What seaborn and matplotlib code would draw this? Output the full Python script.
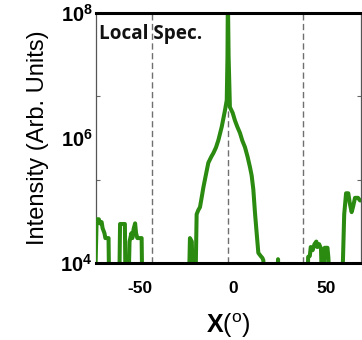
import numpy as np
import pandas as pd
import matplotlib
matplotlib.use("Agg")
import matplotlib.pyplot as plt
import seaborn as sns

# ---- data ----
angle = [-74.0, -73.2, -72.0, -71.5, -70.5, -70.0, -69.0, -68.5, -66.8, -66.5,
         -61.0, -60.6, -58.0, -57.7, -56.0, -55.5, -54.5, -54.0, -53.3, -52.5,
         -52.0, -51.3, -49.0, -48.7,
         -23.5, -23.0, -22.0, -21.5, -20.0, -19.4, -18.5, -17.6, -16.5, -15.8,
         -14.5, -13.1, -11.5, -10.4, -9.0, -7.7, -5.9, -4.1, -3.2, -2.8,
         -2.6, -2.2, -1.5, 0.0, 1.2, 2.5, 3.9, 5.2, 6.6, 8.0,
         9.3, 10.2, 11.1, 12.0, 12.9, 13.8, 15.0, 16.0, 16.5, 17.0,
         24.0, 24.4, 24.8,
         40.3, 40.6, 41.5, 42.0, 43.0, 44.0, 45.0, 45.5, 46.5, 47.5,
         48.0, 49.0, 49.5, 51.0, 51.5, 52.0, 59.0, 60.0, 61.0, 62.2,
         63.0, 64.0, 64.8, 65.8, 67.4, 68.5, 70.0]
intensity = [5e3, 5.0e4, 5.0e4, 4.3e4, 4.5e4, 3.6e4, 3.0e4, 2.5e4, 2.5e4, 5e3,
             5e3, 4.2e4, 4.2e4, 5e3, 5e3, 2.2e4, 3.0e4, 2.5e4, 3.5e4, 4.3e4,
             3.0e4, 2.5e4, 2.5e4, 5e3,
             5e3, 2.5e4, 2.2e4, 5e3, 5e3, 6.0e4, 7.0e4, 7.8e4, 1.2e5, 1.6e5,
             2.5e5, 4.0e5, 5.0e5, 5.7e5, 7.0e5, 9.2e5, 1.5e6, 2.8e6, 4.0e6, 2e7,
             2e8, 2e7, 3.1e6, 2.5e6, 1.9e6, 1.5e6, 1.2e6, 9.0e5, 7.1e5, 5.0e5,
             3.4e5, 2.5e5, 1.5e5, 6.3e4, 3.0e4, 1.45e4, 1.3e4, 1.2e4, 1.1e4, 5e3,
             5e3, 1.15e4, 5e3,
             5e3, 1.25e4, 1.3e4, 1.8e4, 1.6e4, 2.0e4, 2.2e4, 1.8e4, 2.0e4, 1.7e4,
             5e3, 5e3, 1.75e4, 1.75e4, 1.2e4, 5e3, 5e3, 6e4, 1.3e5, 1.3e5,
             9e4, 6.5e4, 8e4, 1.1e5, 1.1e5, 1.0e5, 1.0e5]
dashed_x = [-43.5, -2.4, 37.6]
xticks = [-50, 0, 50]
xtick_labels = ["-50", "0", "50"]
ytick_vals = [1e4, 1e6, 1e8]
ytick_labels = [r"$\mathbf{10^{4}}$", r"$\mathbf{10^{6}}$", r"$\mathbf{10^{8}}$"]
ytick_minor = [10 ** (4 + 4 / 3), 10 ** (4 + 8 / 3)]
annotation = "Local Spec."

df = pd.DataFrame({"angle": angle, "intensity": intensity})

sns.set_theme(style="white")
plt.rcParams["font.family"] = ["Liberation Sans", "DejaVu Sans"]
plt.rcParams["mathtext.fontset"] = "custom"
plt.rcParams["mathtext.rm"] = "Liberation Sans"
plt.rcParams["mathtext.bf"] = "Liberation Sans:bold"
plt.rcParams["mathtext.it"] = "Liberation Sans:italic"
plt.rcParams["text.color"] = "black"
plt.rcParams["axes.labelcolor"] = "black"
plt.rcParams["xtick.color"] = "black"
plt.rcParams["ytick.color"] = "black"

fig = plt.figure(figsize=(3.62, 3.40), dpi=100)
ax = fig.add_axes([0.2644, 0.2265, 0.7342, 0.7361])

for xv in dashed_x:
    ax.axvline(xv, color="#6f6f6f", lw=1.0, ls=(0, (4.5, 2.5)), zorder=1)

sns.lineplot(data=df, x="angle", y="intensity", ax=ax, color="#2b8a10",
             lw=2.9, sort=False, estimator=None, zorder=3)

ax.set_yscale("log")
ax.set_xlim(-73.7, 69.3)
ax.set_ylim(1e4, 1e8)

ax.set_xticks(xticks)
ax.set_xticklabels(xtick_labels, fontsize=12.5, fontweight="bold")
ax.yaxis.set_major_locator(matplotlib.ticker.FixedLocator(ytick_vals))
ax.yaxis.set_major_formatter(matplotlib.ticker.FixedFormatter(ytick_labels))
ax.yaxis.set_minor_locator(matplotlib.ticker.FixedLocator(ytick_minor))
ax.yaxis.set_minor_formatter(matplotlib.ticker.NullFormatter())
ax.tick_params(axis="y", which="major", length=0, labelsize=14.5, pad=2)
ax.tick_params(axis="y", which="minor", length=3, width=0.8, direction="in",
               color="#666666", left=True, right=True)
ax.tick_params(axis="x", length=0, pad=13)

for side in ["top", "bottom"]:
    ax.spines[side].set_color("black")
    ax.spines[side].set_linewidth(2.2)
    ax.spines[side].set_zorder(5)
for side in ["left", "right"]:
    ax.spines[side].set_color("#555555")
    ax.spines[side].set_linewidth(0.9)

ax.set_xlabel(r"$\mathbf{X}(^{\mathrm{o}})$", fontsize=18, labelpad=11)
ax.set_ylabel("Intensity (Arb. Units)", fontsize=17, labelpad=8)

ax.text(0.014, 0.915, annotation, transform=ax.transAxes, fontsize=13.6,
        fontweight="bold", family=["Open Sans", "DejaVu Sans"], va="center",
        ha="left", color="#111111")

fig.savefig("out.png", dpi=100)
